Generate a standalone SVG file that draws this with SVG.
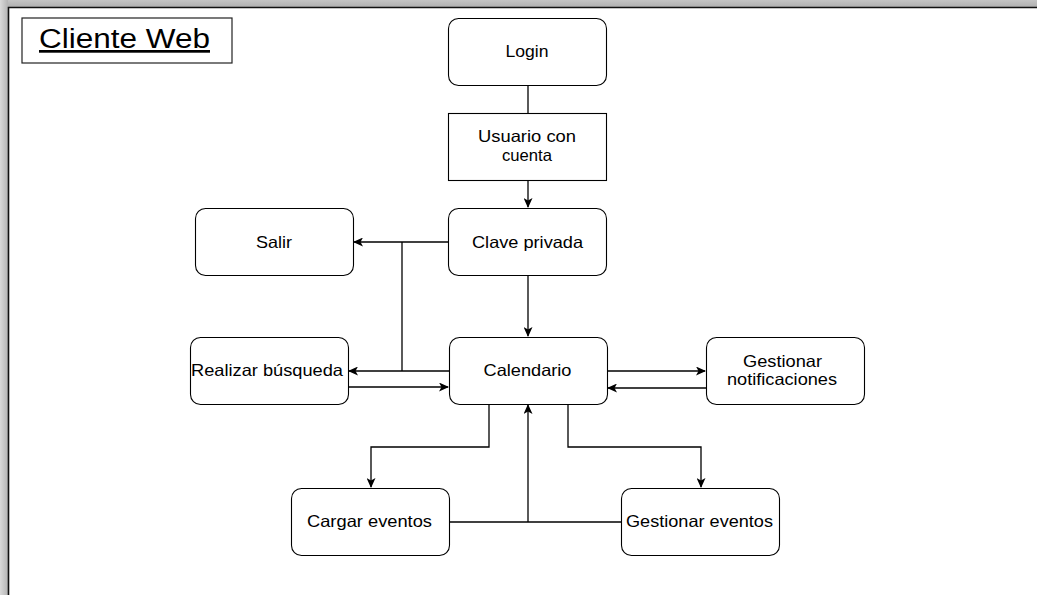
<svg xmlns="http://www.w3.org/2000/svg" width="1037" height="595" viewBox="0 0 1037 595">
<defs>
<linearGradient id="gt" x1="0" y1="0" x2="0" y2="1"><stop offset="0" stop-color="#c4c4c4"/><stop offset="1" stop-color="#b0b0b0"/></linearGradient>
<linearGradient id="gl" x1="0" y1="0" x2="1" y2="0"><stop offset="0" stop-color="#dadada"/><stop offset="1" stop-color="#b4b4b4"/></linearGradient>
<marker id="ah" markerWidth="11" markerHeight="9" refX="9" refY="4.5" orient="auto" markerUnits="userSpaceOnUse">
<path d="M0,0 L10,4.5 L0,9 L2.5,4.5 Z" fill="#000"/>
</marker>
<style>
.n{fill:#fff;stroke:#000;stroke-width:1.1}
.t{font-family:"Liberation Sans",Arial,sans-serif;font-size:16.5px;fill:#000;text-anchor:middle}
.c{fill:none;stroke:#000;stroke-width:1.3}
.a{marker-end:url(#ah)}
</style>
</defs>
<rect x="0" y="0" width="1037" height="595" fill="#fff"/>
<rect x="0" y="0" width="1037" height="7" fill="url(#gt)"/>
<rect x="0" y="0" width="8" height="595" fill="url(#gl)"/>
<path d="M8.5,595 V7.5 H1037" fill="none" stroke="#111" stroke-width="1.6"/>

<g id="title">
<rect x="22" y="18" width="210" height="45" fill="#fff" stroke="#222" stroke-width="1.2"/>
<text x="39" y="48" font-family="'Liberation Sans',Arial,sans-serif" font-size="27" text-decoration="underline" textLength="171" lengthAdjust="spacingAndGlyphs">Cliente Web</text>
</g>

<g id="connectors">
<path class="c" d="M528,85 V113"/>
<path class="c a" d="M528,181 V207"/>
<path class="c a" d="M528,276 V336"/>
<path class="c a" d="M449,242 H354"/>
<path class="c" d="M402,242 V371"/>
<path class="c a" d="M449,371 H349"/>
<path class="c a" d="M348,387 H448"/>
<path class="c a" d="M607,371 H705"/>
<path class="c a" d="M706,388 H608"/>
<path class="c a" d="M489,404 V447 H371 V487"/>
<path class="c a" d="M568,404 V447 H701 V487"/>
<path class="c" d="M449,522 H622"/>
<path class="c a" d="M528,522 V405"/>
</g>

<g id="login"><rect class="n" x="448.5" y="18.5" width="158" height="67" rx="10"/><text class="t" x="527" y="57" textLength="43" lengthAdjust="spacingAndGlyphs">Login</text></g>
<g id="usuario"><rect class="n" x="448.5" y="113.5" width="158" height="67"/><text class="t" x="527" y="142" textLength="98" lengthAdjust="spacingAndGlyphs">Usuario con</text><text class="t" x="527" y="161" textLength="50" lengthAdjust="spacingAndGlyphs">cuenta</text></g>
<g id="clave"><rect class="n" x="448.5" y="208.5" width="158" height="67" rx="10"/><text class="t" x="527.5" y="248" textLength="111" lengthAdjust="spacingAndGlyphs">Clave privada</text></g>
<g id="salir"><rect class="n" x="195.5" y="208.5" width="158" height="67" rx="10"/><text class="t" x="274" y="248" textLength="36" lengthAdjust="spacingAndGlyphs">Salir</text></g>
<g id="busqueda"><rect class="n" x="190.5" y="337.5" width="158" height="67" rx="10"/><text class="t" x="267" y="376" textLength="152" lengthAdjust="spacingAndGlyphs">Realizar búsqueda</text></g>
<g id="calendario"><rect class="n" x="449.5" y="337.5" width="158" height="67" rx="10"/><text class="t" x="527.5" y="376" textLength="88" lengthAdjust="spacingAndGlyphs">Calendario</text></g>
<g id="notificaciones"><rect class="n" x="706.5" y="337.5" width="158" height="67" rx="10"/><text class="t" x="782.5" y="367" textLength="79" lengthAdjust="spacingAndGlyphs">Gestionar</text><text class="t" x="782" y="385" textLength="110" lengthAdjust="spacingAndGlyphs">notificaciones</text></g>
<g id="cargar"><rect class="n" x="291.5" y="488.5" width="158" height="67" rx="10"/><text class="t" x="369.5" y="527" textLength="125" lengthAdjust="spacingAndGlyphs">Cargar eventos</text></g>
<g id="gestionar_eventos"><rect class="n" x="621.5" y="488.5" width="158" height="67" rx="10"/><text class="t" x="699.5" y="527" textLength="147" lengthAdjust="spacingAndGlyphs">Gestionar eventos</text></g>
</svg>
